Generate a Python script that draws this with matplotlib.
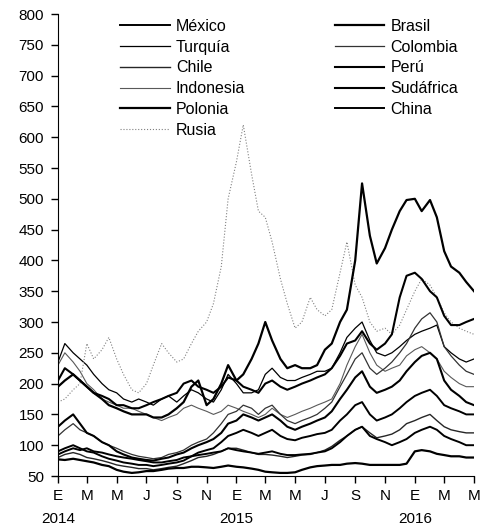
import pandas as pd
import matplotlib.pyplot as plt
import matplotlib.transforms as mtransforms

plt.rcParams['font.family'] = ['Liberation Sans', 'DejaVu Sans']

# semi-monthly observations, Jan 2014 - May 2016
dates = pd.date_range('2014-01-01', '2016-05-01', freq='SMS')

mexico = [90, 95, 100, 95, 90, 88, 82, 78, 75, 72, 70, 68, 68, 66, 68, 70, 72, 75, 82, 88, 92, 95, 105, 115,
          120, 125, 120, 115, 120, 125, 115, 110, 108, 112, 115, 118, 120, 125, 140, 150, 165, 170, 150, 140, 145, 150, 160, 170,
          180, 185, 190, 180, 165, 160, 155, 150, 150]
turquia = [235, 265, 250, 240, 230, 215, 200, 190, 185, 175, 170, 175, 170, 165, 175, 180, 170, 180, 190, 185, 175, 170, 190, 215,
           200, 185, 185, 190, 215, 225, 210, 205, 205, 210, 215, 220, 220, 225, 250, 275, 290, 300, 270, 250, 245, 250, 260, 270,
           280, 285, 290, 295, 260, 250, 240, 235, 240]
chile = [80, 85, 88, 85, 80, 78, 75, 72, 68, 66, 64, 62, 62, 60, 62, 64, 66, 70, 75, 80, 82, 85, 90, 95,
         95, 92, 88, 85, 85, 84, 82, 80, 82, 84, 85, 88, 92, 98, 108, 115, 125, 130, 120, 112, 115, 118, 125, 135,
         140, 145, 150, 140, 130, 125, 122, 120, 120]
indonesia = [230, 250, 235, 220, 200, 190, 175, 170, 165, 160, 160, 155, 150, 145, 140, 145, 150, 160, 165, 160, 155, 150, 155, 165,
             160, 155, 150, 145, 150, 160, 150, 145, 150, 155, 160, 165, 170, 175, 200, 230, 260, 280, 250, 230, 220, 225, 230, 245,
             255, 260, 250, 240, 220, 210, 200, 195, 195]
polonia = [77, 76, 78, 76, 74, 72, 68, 66, 60, 57, 55, 56, 58, 58, 60, 62, 63, 63, 65, 65, 64, 63, 65, 67,
           65, 64, 62, 60, 57, 56, 55, 55, 56, 60, 64, 66, 67, 68, 68, 70, 71, 70, 68, 68, 68, 68, 68, 70,
           90, 92, 90, 86, 84, 82, 82, 80, 80]
rusia = [170, 175, 190, 200, 265, 240, 255, 275, 240, 215, 190, 185, 200, 230, 265, 250, 235, 240, 265, 285, 300, 330, 390, 500,
         560, 620, 540, 480, 470, 430, 370, 330, 290, 300, 340, 320, 310, 320, 380, 430, 360, 340, 300, 285, 290, 280, 295, 320,
         350, 370, 360, 340, 315, 300, 290, 285, 280]
brasil = [195, 205, 215, 205, 195, 185, 175, 165, 160, 155, 150, 150, 150, 145, 145, 150, 160, 170, 195, 205, 165, 175, 200, 230,
          205, 215, 240, 265, 300, 270, 240, 225, 230, 225, 225, 230, 255, 265, 300, 320, 400, 525, 440, 395, 420, 450, 480, 498,
          500, 480, 498, 470, 415, 390, 380, 365, 350]
colombia = [115, 125, 135, 125, 120, 115, 105, 100, 95, 90, 85, 82, 80, 78, 80, 85, 88, 92, 100, 105, 110, 120, 135, 150,
            155, 165, 160, 150, 160, 165, 150, 140, 135, 140, 145, 150, 160, 170, 195, 215, 240, 250, 225, 215, 225, 235, 250, 265,
            290, 305, 315, 300, 260, 245, 230, 220, 215]
peru = [130, 140, 150, 135, 120, 115, 105, 100, 90, 85, 80, 78, 76, 75, 78, 80, 85, 88, 95, 100, 105, 110, 120, 135,
        140, 150, 145, 140, 145, 150, 140, 130, 125, 130, 135, 140, 145, 155, 175, 190, 210, 220, 195, 185, 190, 195, 205, 220,
        235, 245, 250, 240, 205, 190, 180, 170, 165]
sudafrica = [205, 225, 215, 205, 195, 185, 180, 175, 165, 165, 160, 160, 165, 170, 175, 180, 185, 200, 205, 195, 190, 185, 195, 210,
             205, 195, 190, 185, 200, 205, 195, 190, 195, 200, 205, 210, 215, 225, 245, 265, 270, 285, 265, 255, 265, 280, 340, 375,
             380, 370, 350, 340, 310, 295, 295, 300, 305]
china = [85, 90, 95, 92, 95, 90, 88, 85, 82, 80, 78, 76, 74, 72, 72, 74, 76, 80, 82, 84, 86, 88, 90, 95,
         92, 90, 88, 86, 88, 90, 86, 84, 84, 85, 86, 88, 90, 95, 105, 115, 125, 130, 115, 110, 105, 100, 105, 110,
         120, 125, 130, 125, 115, 110, 105, 100, 100]

series = [
    ('México', mexico, 'black', 1.4, '-'),
    ('Turquía', turquia, 'black', 0.9, '-'),
    ('Chile', chile, '0.15', 1.0, '-'),
    ('Indonesia', indonesia, '0.35', 0.8, '-'),
    ('Polonia', polonia, 'black', 1.6, '-'),
    ('Rusia', rusia, '0.5', 0.8, ':'),
    ('Brasil', brasil, 'black', 1.6, '-'),
    ('Colombia', colombia, '0.2', 0.9, '-'),
    ('Perú', peru, 'black', 1.5, '-'),
    ('Sudáfrica', sudafrica, 'black', 1.5, '-'),
    ('China', china, 'black', 1.4, '-'),
]

tick_dates = pd.date_range('2014-01-01', '2016-05-01', freq='2MS')
tick_labels = ['E', 'M', 'M', 'J', 'S', 'N', 'E', 'M', 'M', 'J', 'S', 'N', 'E', 'M', 'M']
years = ['2014', '2015', '2016']

fig = plt.figure(figsize=(4.8, 5.29), dpi=100)
ax = fig.add_axes([58 / 480, 53 / 529, 416 / 480, 462 / 529])

for name, vals, col, lw, ls in series:
    ax.plot(dates, vals, color=col, lw=lw, ls=ls, label=name)

ax.set_xlim(dates[0], dates[-1])
ax.set_ylim(50, 800)
ax.set_yticks(range(50, 801, 50))
ax.set_xticks(tick_dates)
ax.set_xticklabels(tick_labels)
ax.tick_params(labelsize=11, length=5, width=1, direction='out', pad=5)
ax.tick_params(axis='x', pad=4)
for s in ['top', 'right']:
    ax.spines[s].set_visible(False)

trans = mtransforms.blended_transform_factory(ax.transData, ax.transAxes)
for i, y in enumerate(years):
    ax.text(tick_dates[6 * i], -0.092, y, transform=trans, ha='center', va='center', fontsize=11)

ax.legend(ncol=2, frameon=False, loc='upper left', bbox_to_anchor=(120 / 480, 1 - 19 / 529),
          bbox_transform=fig.transFigure, borderpad=0, borderaxespad=0, handlelength=3.1,
          handletextpad=0.4, labelspacing=0.36, columnspacing=5.6, fontsize=11.5)

fig.savefig('out.png', dpi=100)
